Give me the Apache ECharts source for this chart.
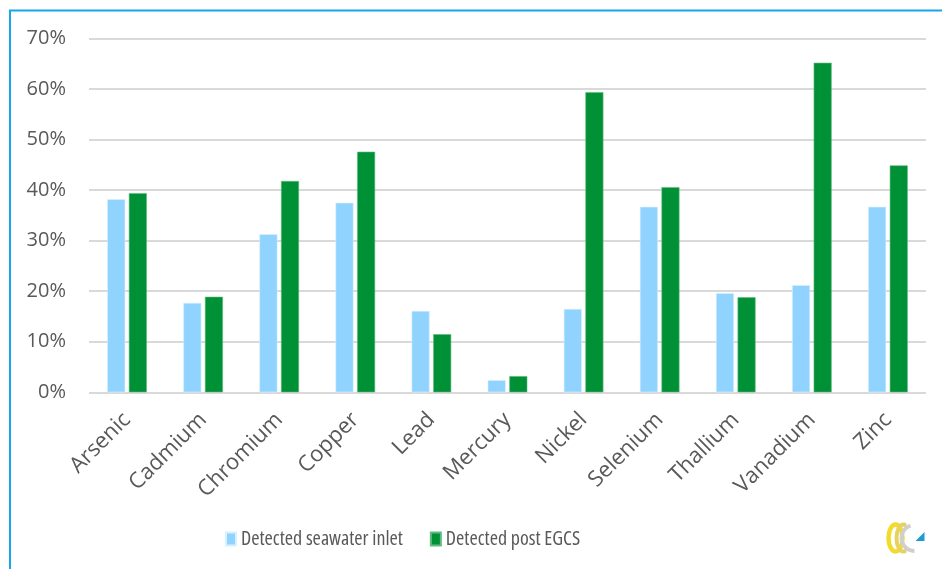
<!DOCTYPE html>
<html>
<head>
<meta charset="utf-8">
<style>
  html, body { margin: 0; padding: 0; background: #ffffff; }
  #chart { width: 942px; height: 569px; }
</style>
<script src="https://cdn.jsdelivr.net/npm/echarts@6/dist/echarts.min.js"></script>
</head>
<body>
<div id="chart"></div>
<script>
// Metals measured in samples, share of samples with detection (%)
const metals = ['Arsenic', 'Cadmium', 'Chromium', 'Copper', 'Lead', 'Mercury',
                'Nickel', 'Selenium', 'Thallium', 'Vanadium', 'Zinc'];
const seawaterInlet = [38.2, 17.7, 31.3, 37.5, 16.1, 2.4, 16.5, 36.7, 19.6, 21.2, 36.7];
const postEGCS      = [39.4, 18.9, 41.8, 47.6, 11.5, 3.2, 59.4, 40.6, 18.8, 65.2, 44.9];
const seriesNames = ['Detected seawater inlet', 'Detected post EGCS'];
const yTicks = [0, 10, 20, 30, 40, 50, 60, 70];

const textColor = '#595959';
const baseFont = "'Open Sans', sans-serif";
const chart = echarts.init(document.getElementById('chart'), null, { renderer: 'canvas' });

chart.setOption({
  animation: false,
  backgroundColor: '#ffffff',
  grid: { left: 89, right: 16, top: 38.5, bottom: 176.7 },
  legend: {
    data: seriesNames,
    top: 529,
    left: 225,
    padding: 0,
    itemWidth: 10,
    itemHeight: 13,
    itemGap: 27,
    icon: 'rect',
    textStyle: {
      color: textColor,
      fontSize: 20,
      fontStyle: 'normal',
      fontWeight: 'condensed',
      fontFamily: baseFont
    }
  },
  xAxis: {
    type: 'category',
    data: metals,
    axisTick: { show: false },
    axisLine: { show: false },
    axisLabel: {
      rotate: 45,
      interval: 0,
      margin: 24,
      color: textColor,
      fontSize: 22,
      fontFamily: baseFont
    }
  },
  yAxis: {
    type: 'value',
    min: yTicks[0],
    max: yTicks[yTicks.length - 1],
    interval: 10,
    axisLine: { show: false },
    axisTick: { show: false },
    axisLabel: {
      formatter: '{value}%',
      margin: 23,
      color: textColor,
      fontSize: 20,
      fontFamily: baseFont
    },
    splitLine: { lineStyle: { color: '#d9d9d9', width: 2 } }
  },
  series: [
    {
      name: seriesNames[0],
      type: 'bar',
      data: seawaterInlet,
      barWidth: 18,
      barGap: '20%',
      itemStyle: { color: '#8fd3fe', borderColor: '#d8f0ff', borderWidth: 0.6 }
    },
    {
      name: seriesNames[1],
      type: 'bar',
      data: postEGCS,
      barWidth: 18,
      barGap: '20%',
      itemStyle: { color: '#009035', borderColor: '#5fbb7f', borderWidth: 0.6 }
    }
  ],
  graphic: [
    // chart frame
    {
      type: 'rect',
      shape: { x: 10, y: 10.5, width: 960, height: 600 },
      style: { fill: 'none', stroke: '#17a6ea', lineWidth: 2 },
      silent: true,
      z: 100
    },
    // corner logo
    {
      type: 'group',
      left: 886,
      top: 522,
      silent: true,
      children: [
        { type: 'ellipse', shape: { cx: 9, cy: 16, rx: 7, ry: 13.5 },
          style: { fill: 'none', stroke: '#f2dc2a', lineWidth: 4.5 } },
        { type: 'ellipse', shape: { cx: 17, cy: 16, rx: 7, ry: 13.5 },
          style: { fill: 'none', stroke: '#e6d25e', lineWidth: 4 } },
        { type: 'rect', shape: { x: 20, y: 0, width: 22, height: 33 }, style: { fill: '#ffffff' }, z: 1 },
        { type: 'arc', shape: { cx: 28, cy: 16, r: 13, startAngle: Math.PI * 0.5, endAngle: Math.PI * 1.4 },
          style: { fill: 'none', stroke: '#cfcfcf', lineWidth: 4 }, z: 2 },
        { type: 'polygon', shape: { points: [[29, 19], [38, 19], [38, 10]] },
          style: { fill: '#1e9ad6' }, z: 3 }
      ]
    }
  ]
});
</script>
</body>
</html>
